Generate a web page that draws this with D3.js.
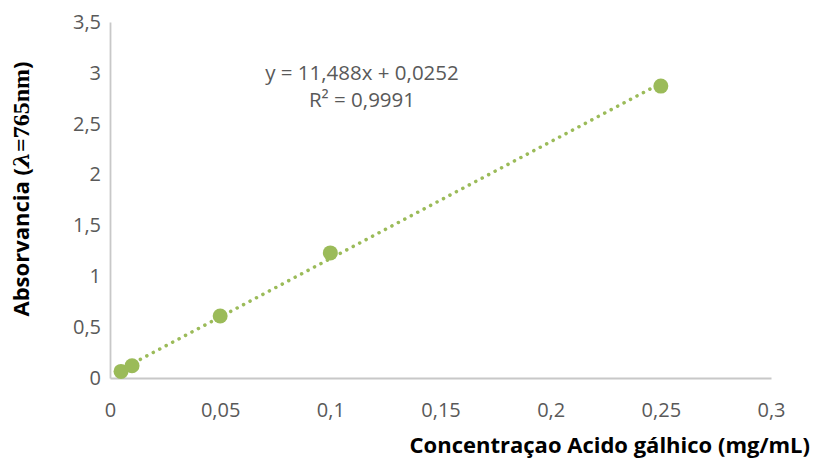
<!DOCTYPE html>
<html><head><meta charset="utf-8">
<script src="https://cdnjs.cloudflare.com/ajax/libs/d3/7.8.5/d3.min.js"></script>
<style>body{margin:0;background:#fff}</style>
</head><body>
<svg id="c" width="813" height="460"></svg>
<script>
const concentration = [0.005, 0.01, 0.05, 0.1, 0.25];
const absorbance = [0.065, 0.12, 0.61, 1.23, 2.87];
const slope = 11.488, intercept = 0.0252;
const xTicks = [0, 0.05, 0.1, 0.15, 0.2, 0.25, 0.3];
const yTicks = [0, 0.5, 1, 1.5, 2, 2.5, 3, 3.5];
const eqText = "y = 11,488x + 0,0252";
const r2Text = "R² = 0,9991";

const svg = d3.select("#c");
const x = d3.scaleLinear().domain([0, 0.3]).range([110, 771]);
const y = d3.scaleLinear().domain([0, 3.5]).range([378, 22]);
const fmt = d => String(d).replace(".", ",");
const green = "#9BBB59", txt = "#595959", axisCol = "#C8C8C8";
const font = "'Open Sans', sans-serif";

// axes
const xa = svg.append("g").attr("transform", "translate(0,378)")
  .call(d3.axisBottom(x).tickValues(xTicks).tickFormat(fmt).tickSize(0).tickPadding(25));
const ya = svg.append("g").attr("transform", "translate(110,0)")
  .call(d3.axisLeft(y).tickValues(yTicks).tickFormat(fmt).tickSize(0).tickPadding(9));
[xa, ya].forEach(a => {
  a.select(".domain").attr("stroke", axisCol).attr("stroke-width", 1.8);
  a.selectAll("text").attr("fill", txt).attr("font-family", font).attr("font-size", 20);
});

// trendline
const xs = [d3.min(concentration), d3.max(concentration)];
svg.append("line")
  .attr("x1", x(xs[0])).attr("y1", y(slope * xs[0] + intercept))
  .attr("x2", x(xs[1])).attr("y2", y(slope * xs[1] + intercept))
  .attr("stroke", green).attr("stroke-width", 3.5)
  .attr("stroke-linecap", "round").attr("stroke-dasharray", "0.1 7.2");

// points
svg.selectAll("circle.pt").data(concentration).enter().append("circle")
  .attr("cx", d => x(d)).attr("cy", (d, i) => y(absorbance[i]))
  .attr("r", 7.5).attr("fill", green);

// equation
svg.append("text").attr("x", 362).attr("y", 80).attr("text-anchor", "middle")
  .attr("fill", txt).attr("font-family", font).attr("font-size", 20.5).text(eqText);
svg.append("text").attr("x", 362).attr("y", 107).attr("text-anchor", "middle")
  .attr("fill", txt).attr("font-family", font).attr("font-size", 20.5).text(r2Text);

// axis titles
svg.append("text").attr("x", 810).attr("y", 453).attr("text-anchor", "end")
  .attr("font-family", font).attr("font-weight", "bold").attr("font-size", 22)
  .attr("fill", "#000").text("Concentraçao Acido gálhico (mg/mL)");
const yt = svg.append("text").attr("transform", "translate(29,189) rotate(-90)")
  .attr("text-anchor", "middle").attr("font-family", font).attr("font-weight", "bold")
  .attr("font-size", 22).attr("fill", "#000");
yt.append("tspan").text("Absorvancia (");
yt.append("tspan").attr("font-family", "'DejaVu Serif', serif").attr("font-style", "italic").attr("font-size", 23).text("λ");
yt.append("tspan").attr("font-family", "'Liberation Serif', serif").attr("font-size", 24).text("=765nm");
yt.append("tspan").text(")");
</script>
</body></html>
